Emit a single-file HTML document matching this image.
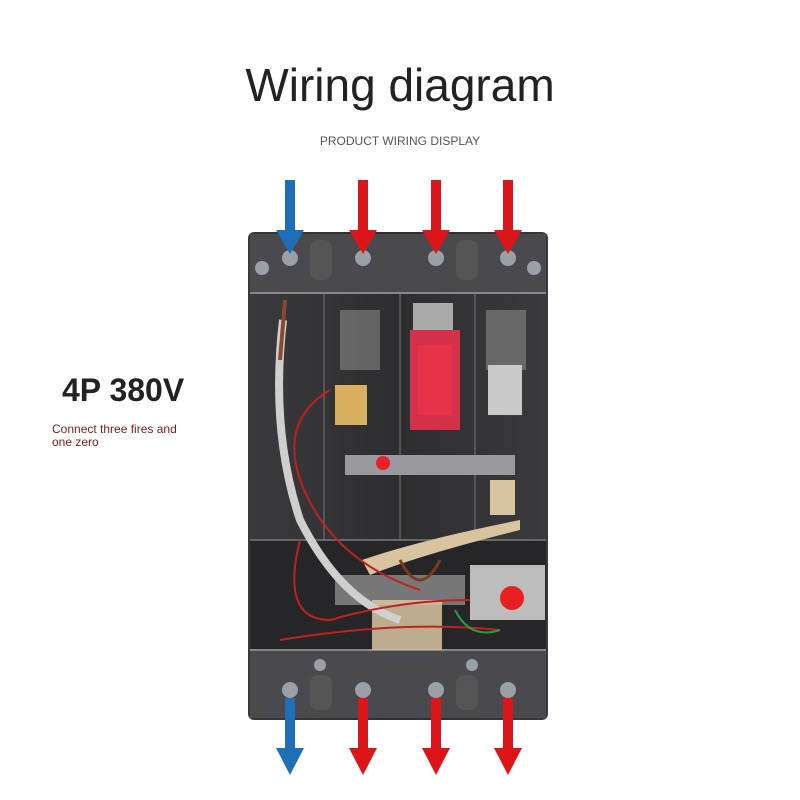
<!DOCTYPE html>
<html><head><meta charset="utf-8"><style>
html,body{margin:0;padding:0;background:#fff;}
body{width:800px;height:800px;position:relative;overflow:hidden;font-family:"Liberation Sans",sans-serif;}
.t{position:absolute;white-space:nowrap;}
</style></head><body>
<div class="t" style="left:0;width:800px;text-align:center;top:58px;font-size:46px;color:#222;">Wiring diagram</div>
<div class="t" style="left:0;width:800px;text-align:center;top:134px;font-size:12px;color:#555;">PRODUCT WIRING DISPLAY</div>
<div class="t" style="left:62px;top:372px;font-size:32px;font-weight:bold;color:#222;">4P 380V</div>
<div class="t" style="left:52px;top:423px;font-size:12px;line-height:13px;color:#7a1a1a;">Connect three fires and<br>one zero</div>
<svg width="800" height="800" style="position:absolute;left:0;top:0">
<defs>
<linearGradient id="b" x1="0" x2="1"><stop offset="0" stop-color="#3a3a3c"/><stop offset="0.5" stop-color="#2e2e30"/><stop offset="1" stop-color="#3a3a3c"/></linearGradient>
</defs>
<rect x="248" y="232" width="300" height="488" rx="6" fill="url(#b)"/>
<rect x="250" y="234" width="296" height="60" fill="#4a4a4e"/>
<rect x="250" y="650" width="296" height="68" fill="#4a4a4e"/>
<rect x="250" y="540" width="296" height="110" fill="#262628"/>
<line x1="250" y1="293" x2="546" y2="293" stroke="#888" stroke-width="2"/>
<line x1="250" y1="540" x2="546" y2="540" stroke="#666" stroke-width="2"/>
<line x1="250" y1="650" x2="546" y2="650" stroke="#888" stroke-width="2"/>
<line x1="324" y1="293" x2="324" y2="540" stroke="#777"/>
<line x1="400" y1="293" x2="400" y2="540" stroke="#777"/>
<line x1="475" y1="293" x2="475" y2="540" stroke="#777"/>
<g fill="#9aa0a6">
<circle cx="290" cy="258" r="8"/><circle cx="363" cy="258" r="8"/><circle cx="436" cy="258" r="8"/><circle cx="508" cy="258" r="8"/>
<circle cx="290" cy="690" r="8"/><circle cx="363" cy="690" r="8"/><circle cx="436" cy="690" r="8"/><circle cx="508" cy="690" r="8"/>
<circle cx="262" cy="268" r="7"/><circle cx="534" cy="268" r="7"/>
<circle cx="320" cy="665" r="6"/><circle cx="472" cy="665" r="6"/>
</g>
<g fill="#555"><rect x="310" y="240" width="22" height="40" rx="8"/><rect x="456" y="240" width="22" height="40" rx="8"/>
<rect x="310" y="675" width="22" height="35" rx="8"/><rect x="456" y="675" width="22" height="35" rx="8"/></g>
<rect x="340" y="310" width="40" height="60" fill="#888" opacity="0.6"/>
<rect x="486" y="310" width="40" height="60" fill="#888" opacity="0.6"/>
<rect x="488" y="365" width="34" height="50" fill="#c9c9c9"/>
<rect x="413" y="303" width="40" height="30" fill="#aaa"/>
<rect x="410" y="330" width="50" height="100" fill="#d3324a"/>
<rect x="418" y="345" width="34" height="70" fill="#e8324a"/>
<rect x="335" y="385" width="32" height="40" fill="#d9b060"/>
<rect x="345" y="455" width="170" height="20" fill="#9a9a9e"/>
<circle cx="383" cy="463" r="7" fill="#e8202a"/>
<rect x="470" y="565" width="75" height="55" fill="#bdbdbd"/>
<circle cx="512" cy="598" r="12" fill="#e82020"/>
<rect x="335" y="575" width="130" height="30" fill="#777"/>
<path d="M362 560 Q420 540 520 520 L520 530 Q420 555 370 575Z" fill="#d8c4a0"/>
<rect x="372" y="600" width="70" height="50" fill="#d8c4a0" opacity="0.85"/>
<rect x="490" y="480" width="25" height="35" fill="#d8c4a0"/>
<path d="M283 320 Q270 430 300 520 Q340 600 400 620" stroke="#cfcfcf" stroke-width="8" fill="none"/>
<path d="M285 300 L280 360" stroke="#8a4a30" stroke-width="4"/>
<g stroke="#c02020" stroke-width="2" fill="none">
<path d="M330 390 Q280 420 300 480 Q330 560 420 590"/>
<path d="M300 540 Q280 620 330 620 Q400 600 470 600"/>
<path d="M280 640 Q400 620 500 630"/>
</g>
<path d="M455 610 Q470 640 500 630" stroke="#2a9a40" stroke-width="2" fill="none"/>
<path d="M400 560 Q420 600 440 560" stroke="#7a3a20" stroke-width="3" fill="none"/>
<g>
<rect x="285" y="180" width="10" height="52" fill="#1e6fb8"/><polygon points="276,230 304,230 290,254" fill="#1e6fb8"/>
<rect x="358" y="180" width="10" height="52" fill="#dc1518"/><polygon points="349,230 377,230 363,254" fill="#dc1518"/>
<rect x="431" y="180" width="10" height="52" fill="#dc1518"/><polygon points="422,230 450,230 436,254" fill="#dc1518"/>
<rect x="503" y="180" width="10" height="52" fill="#dc1518"/><polygon points="494,230 522,230 508,254" fill="#dc1518"/>
<rect x="285" y="698" width="10" height="52" fill="#1e6fb8"/><polygon points="276,748 304,748 290,775" fill="#1e6fb8"/>
<rect x="358" y="698" width="10" height="52" fill="#dc1518"/><polygon points="349,748 377,748 363,775" fill="#dc1518"/>
<rect x="431" y="698" width="10" height="52" fill="#dc1518"/><polygon points="422,748 450,748 436,775" fill="#dc1518"/>
<rect x="503" y="698" width="10" height="52" fill="#dc1518"/><polygon points="494,748 522,748 508,775" fill="#dc1518"/>
</g>
</svg>
</body></html>
